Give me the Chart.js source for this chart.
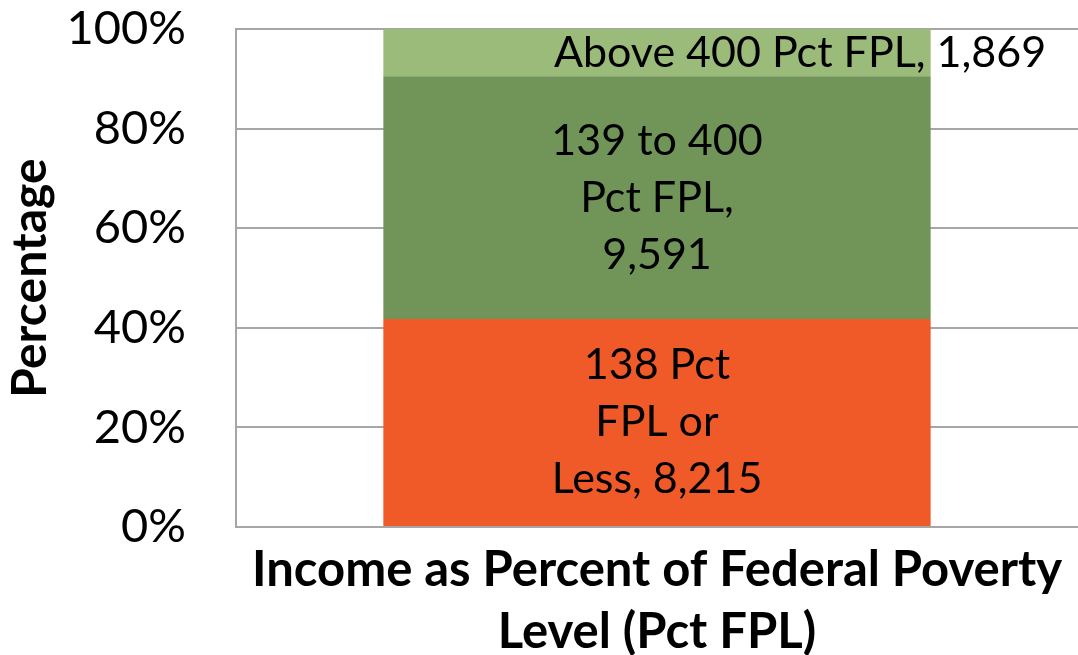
<!DOCTYPE html>
<html>
<head>
<meta charset="utf-8">
<script src="https://cdn.jsdelivr.net/npm/chart.js@4"></script>
<style>
  body { margin: 0; background: #fff; }
  #wrap { width: 1078px; height: 655px; }
</style>
</head>
<body>
<div id="wrap"><canvas id="myChart" width="1078" height="655"></canvas></div>
<script>
// data
const categories = ["All"];
const seriesNames = ["138 Pct FPL or Less", "139 to 400 Pct FPL", "Above 400 Pct FPL"];
const counts = [8215, 9591, 1869];
const colors = ["#F05A28", "#719558", "#9BBB7A"];
// how Excel wrapped each data label
const labelLines = [
  ["138 Pct", "FPL or", "Less, 8,215"],
  ["139 to 400", "Pct FPL,", "9,591"],
  ["Above 400 Pct FPL, 1,869"]
];
const labelShift = [0, 0, 143];
const tickValues = [0, 20, 40, 60, 80, 100];

const total = counts.reduce((a, b) => a + b, 0);
const FONT = "Lato, 'DejaVu Sans', sans-serif";

const barLabels = {
  id: "barLabels",
  afterDatasetsDraw(chart) {
    const ctx = chart.ctx;
    ctx.save();
    ctx.font = "43px " + FONT;
    ctx.fillStyle = "#000";
    ctx.textAlign = "center";
    ctx.textBaseline = "middle";
    chart.data.datasets.forEach((ds, i) => {
      const bar = chart.getDatasetMeta(i).data[0];
      const lines = labelLines[i];
      const lh = 57;
      const cy = (bar.y + bar.base) / 2;
      const y0 = cy - (lines.length - 1) * lh / 2;
      lines.forEach((t, j) => {
        ctx.fillText(t, bar.x + labelShift[i], y0 + j * lh);
      });
    });
    ctx.restore();
  }
};

const ctx = document.getElementById("myChart").getContext("2d");
const myChart = new Chart(ctx, {
  type: "bar",
  data: {
    labels: categories,
    datasets: seriesNames.map((name, i) => ({
      label: name,
      data: [counts[i] / total * 100],
      backgroundColor: colors[i],
      borderWidth: 0,
      barPercentage: 0.65,
      categoryPercentage: 1
    }))
  },
  options: {
    responsive: false,
    animation: false,
    layout: { padding: { top: 29, right: -8, left: 0, bottom: 0 } },
    plugins: {
      legend: { display: false },
      tooltip: { enabled: false }
    },
    scales: {
      x: {
        stacked: true,
        grid: { display: false },
        border: { display: true, color: "#A6A6A6", width: 2 },
        ticks: { display: false },
        title: {
          display: true,
          text: ["Income as Percent of Federal Poverty", "Level (Pct FPL)"],
          color: "#000",
          font: { family: FONT, size: 49, weight: "bold", lineHeight: 1.265 },
          padding: { top: 0, bottom: -8 }
        },
        afterFit(scale) { scale.height = 128; }
      },
      y: {
        stacked: true,
        min: 0,
        max: 100,
        afterBuildTicks(scale) {
          scale.ticks = tickValues.map(v => ({ value: v }));
        },
        grid: { color: "#A6A6A6", lineWidth: 2, drawTicks: true, tickLength: 50, tickColor: "rgba(0,0,0,0)" },
        border: { display: true, color: "#A6A6A6", width: 2 },
        ticks: {
          color: "#000",
          padding: 0,
          font: { family: FONT, size: 47 },
          callback: v => v + "%"
        },
        title: {
          display: true,
          text: "Percentage",
          color: "#000",
          font: { family: FONT, size: 48, weight: "bold", lineHeight: 1.2 },
          padding: { top: 2, bottom: 0 }
        },
        afterFit(scale) { scale.width = 236; }
      }
    }
  },
  plugins: [barLabels]
});
</script>
</body>
</html>
